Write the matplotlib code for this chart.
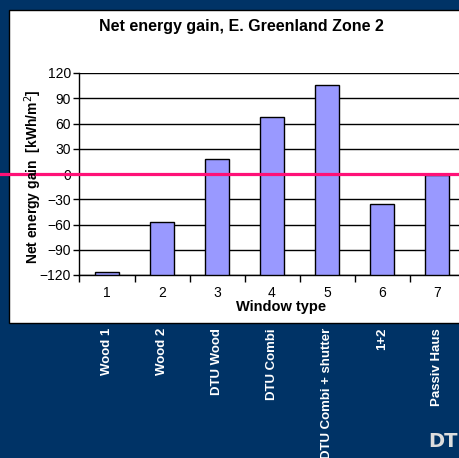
import matplotlib
matplotlib.use("Agg")
import matplotlib.pyplot as plt
from matplotlib.patches import Rectangle
import numpy as np

plt.rcParams['font.family'] = ['Liberation Sans', 'DejaVu Sans']

# data
window_types = [1, 2, 3, 4, 5, 6, 7]
window_names = ['Wood 1', 'Wood 2', 'DTU Wood', 'DTU Combi',
                'DTU Combi + shutter', '1+2', 'Passiv Haus']
net_gain = [-116, -57, 18, 68, 106, -36, -1]  # kWh/m2
y_ticks = [-120, -90, -60, -30, 0, 30, 60, 90, 120]

W, H = 460, 458
bg = '#003366'

fig = plt.figure(figsize=(W / 100, H / 100), dpi=100)
fig.patch.set_facecolor(bg)

# white chart panel
fig.add_artist(Rectangle((9 / W, 1 - 323 / H), 1, 313 / H, transform=fig.transFigure,
                         facecolor='white', edgecolor='black', lw=1, zorder=0))

ax_l, ax_r, ax_t, ax_b = 79.5, 464.5, 73, 275
ax = fig.add_axes([ax_l / W, 1 - ax_b / H, (ax_r - ax_l) / W, (ax_b - ax_t) / H])
ax.set_facecolor('none')

x = np.arange(len(window_types))
base = y_ticks[0]
heights = [v - base for v in net_gain]
ax.bar(x, heights, bottom=base, width=0.43, color='#9999FF', edgecolor='black',
       linewidth=1, zorder=3)

ax.set_xlim(-0.5, len(x) - 0.5)
ax.set_ylim(-120, 120)
ax.set_yticks(y_ticks)
ax.yaxis.grid(True, color='black', linewidth=1, zorder=1)
ax.set_axisbelow(True)
ax.tick_params(axis='y', labelsize=10, length=4, width=1, direction='out', pad=2)

ax.set_xticks(np.arange(len(x) + 1) - 0.5)
ax.set_xticklabels([])
ax.set_xticks(x, minor=True)
ax.set_xticklabels([str(w) for w in window_types], minor=True, fontsize=10)
ax.tick_params(axis='x', which='major', length=5, width=1, direction='out')
ax.tick_params(axis='x', which='minor', length=0, pad=8)

for s in ['top', 'right']:
    ax.spines[s].set_visible(False)
for s in ['left', 'bottom']:
    ax.spines[s].set_linewidth(1)

# pink zero line across the whole slide
ax.axhline(0, xmin=-ax_l / (ax_r - ax_l), xmax=1, clip_on=False,
           color='#FF1177', lw=2.3, zorder=6)

fig.text(241 / W, 1 - 26 / H, 'Net energy gain, E. Greenland Zone 2',
         ha='center', va='center', fontsize=11.5, fontweight='bold')
fig.text(33 / W, 1 - 177 / H, 'Net energy gain  [kWh/m$^2$]', rotation=90,
         ha='center', va='center', fontsize=10, fontweight='bold')
fig.text(281 / W, 1 - 307 / H, 'Window type', ha='center', va='center',
         fontsize=10.5, fontweight='bold')

# names under the panel
for i, name in enumerate(window_names):
    xc = (ax_l + (ax_r - ax_l) * (i + 0.5) / len(window_names)) / W
    fig.text(xc, 1 - 328 / H, name, rotation=90, ha='center', va='top',
             color='white', fontsize=9.5, fontweight='bold')

fig.text(428 / W, 1 - 432 / H, 'DTU', ha='left', va='top', color='#DDDDDD',
         fontsize=14, fontweight='bold', family='DejaVu Sans')

fig.savefig('out.png', dpi=100, facecolor=bg)
